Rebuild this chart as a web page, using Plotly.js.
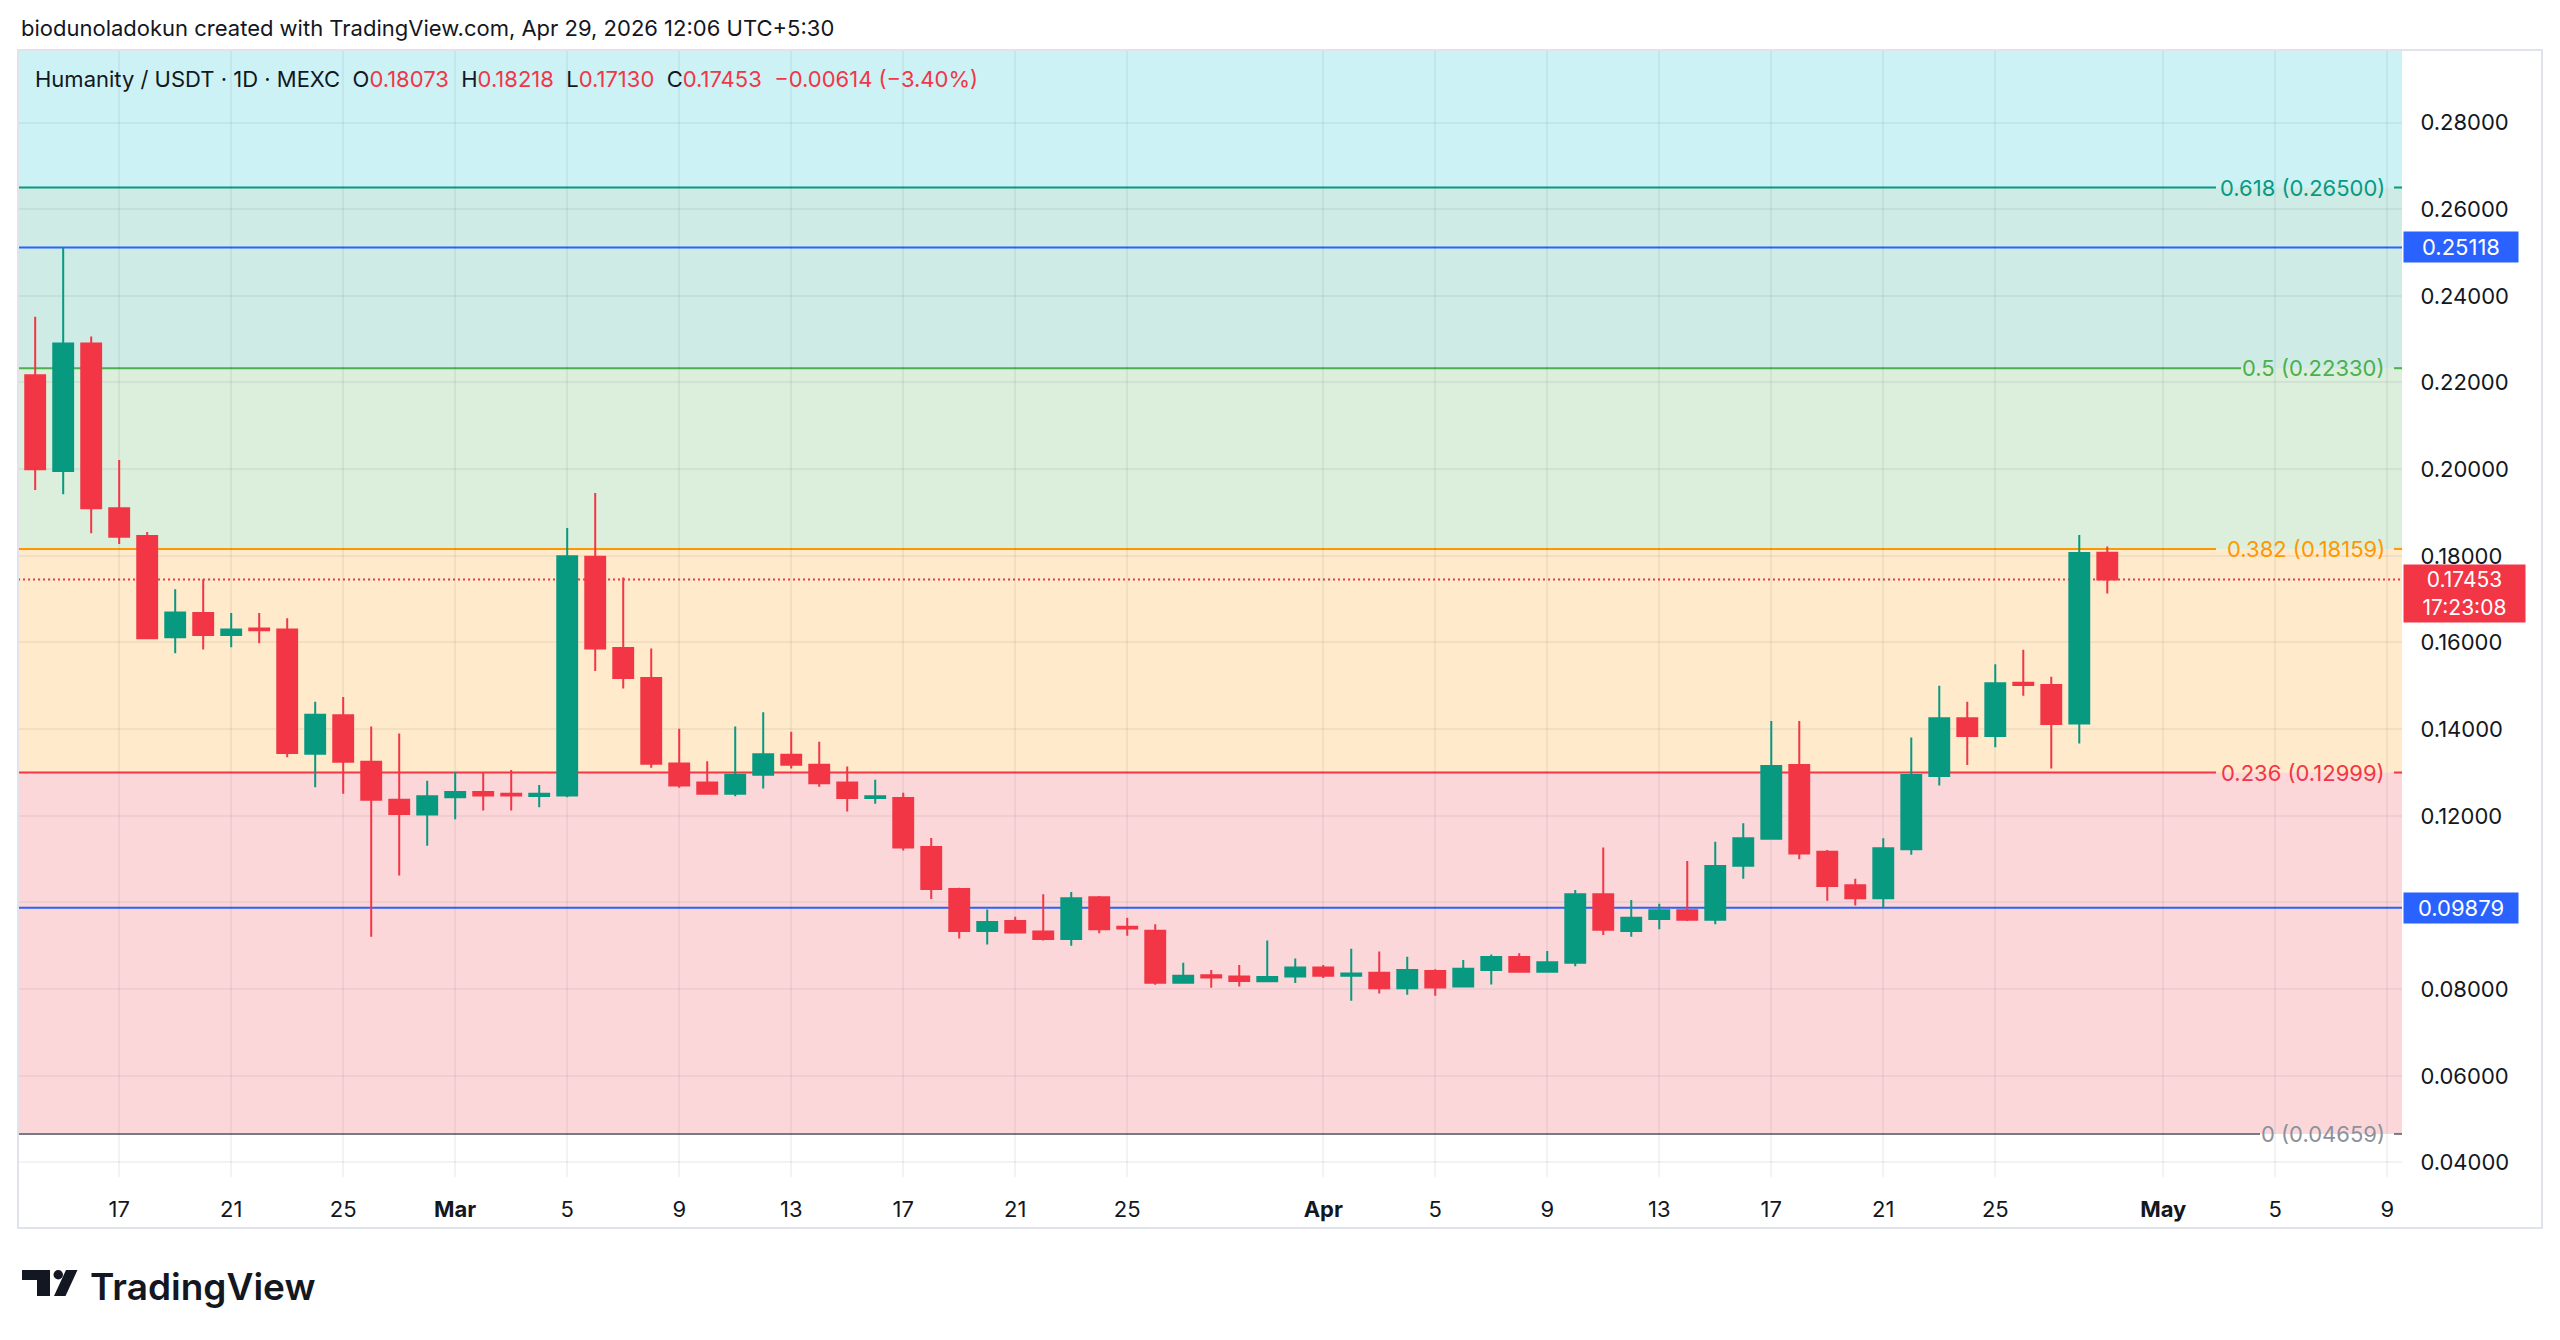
<!DOCTYPE html>
<html>
<head>
<meta charset="utf-8">
<script src="https://cdn.plot.ly/plotly-3.0.1.min.js"></script>
<style>
html,body{margin:0;padding:0;background:#ffffff;}
#chart{width:2560px;height:1340px;}
</style>
</head>
<body>
<div id="chart"></div>
<script>
// ---------------- DATA ----------------
const dates = [
 '2026-02-14','2026-02-15','2026-02-16','2026-02-17','2026-02-18','2026-02-19','2026-02-20','2026-02-21','2026-02-22','2026-02-23','2026-02-24','2026-02-25','2026-02-26','2026-02-27','2026-02-28',
 '2026-03-01','2026-03-02','2026-03-03','2026-03-04','2026-03-05','2026-03-06','2026-03-07','2026-03-08','2026-03-09','2026-03-10','2026-03-11','2026-03-12','2026-03-13','2026-03-14','2026-03-15','2026-03-16','2026-03-17','2026-03-18','2026-03-19','2026-03-20','2026-03-21','2026-03-22','2026-03-23','2026-03-24','2026-03-25','2026-03-26','2026-03-27','2026-03-28','2026-03-29','2026-03-30','2026-03-31',
 '2026-04-01','2026-04-02','2026-04-03','2026-04-04','2026-04-05','2026-04-06','2026-04-07','2026-04-08','2026-04-09','2026-04-10','2026-04-11','2026-04-12','2026-04-13','2026-04-14','2026-04-15','2026-04-16','2026-04-17','2026-04-18','2026-04-19','2026-04-20','2026-04-21','2026-04-22','2026-04-23','2026-04-24','2026-04-25','2026-04-26','2026-04-27','2026-04-28','2026-04-29'
];
const opens = [
 0.2217,0.1996,0.2290,0.1910,0.1846,0.1612,0.1668,0.1617,0.1632,0.1630,0.1343,0.1432,0.1325,0.1237,0.1203,
 0.1243,0.1255,0.1251,0.1246,0.1247,0.1798,0.1587,0.1518,0.1321,0.1277,0.1251,0.1295,0.1341,0.1318,0.1277,0.1241,0.1241,0.1128,0.1031,0.0934,0.0957,0.0933,0.0916,0.1012,0.0944,0.0935,0.0815,0.0832,0.0829,0.0818,0.0829,
 0.0850,0.0831,0.0838,0.0802,0.0842,0.0806,0.0844,0.0874,0.0840,0.0861,0.1019,0.0934,0.0962,0.0982,0.0960,0.1085,0.1147,0.1317,0.1117,0.1040,0.1010,0.1123,0.1292,0.1425,0.1384,0.1507,0.1502,0.1413,0.18073
];
const highs = [
 0.2352,0.25118,0.2306,0.2021,0.1855,0.1723,0.1746,0.1668,0.1668,0.1656,0.1463,0.1474,0.1406,0.1390,0.1281,
 0.1301,0.1301,0.1306,0.1271,0.1864,0.1945,0.1750,0.1586,0.1401,0.1326,0.1406,0.1439,0.1394,0.1371,0.1314,0.1283,0.1253,0.1149,0.1034,0.0984,0.0967,0.1019,0.1024,0.1015,0.0965,0.0950,0.0861,0.0844,0.0856,0.0912,0.0871,
 0.0856,0.0893,0.0887,0.0875,0.0846,0.0867,0.0880,0.0883,0.0888,0.1029,0.1127,0.1006,0.0997,0.1096,0.1140,0.1183,0.1419,0.1419,0.1121,0.1055,0.1148,0.1381,0.1500,0.1463,0.1550,0.1583,0.1521,0.1848,0.18218
];
const lows = [
 0.1952,0.1942,0.1852,0.1827,0.1608,0.1575,0.1584,0.1589,0.1598,0.1335,0.1266,0.1251,0.0921,0.1062,0.1131,
 0.1192,0.1212,0.1212,0.1220,0.1243,0.1534,0.1494,0.1311,0.1265,0.1249,0.1245,0.1263,0.1309,0.1267,0.1210,0.1228,0.1120,0.1008,0.0917,0.0903,0.0930,0.0912,0.0900,0.0929,0.0923,0.0810,0.0814,0.0803,0.0806,0.0818,0.0814,
 0.0826,0.0773,0.0790,0.0787,0.0785,0.0806,0.0811,0.0840,0.0839,0.0853,0.0925,0.0921,0.0938,0.0957,0.0950,0.1055,0.1145,0.1100,0.1004,0.0993,0.0989,0.1110,0.1270,0.1317,0.1358,0.1477,0.1309,0.1367,0.17130
];
const closes = [
 0.2000,0.2290,0.1910,0.1844,0.1610,0.1669,0.1617,0.1630,0.1628,0.1345,0.1433,0.1325,0.1237,0.1204,0.1245,
 0.1255,0.1247,0.1247,0.1251,0.1799,0.1586,0.1518,0.1320,0.1270,0.1251,0.1295,0.1342,0.1318,0.1275,0.1241,0.1245,0.1127,0.1031,0.0934,0.0955,0.0931,0.0916,0.1010,0.0938,0.0940,0.0815,0.0831,0.0827,0.0819,0.0828,0.0850,
 0.0831,0.0836,0.0802,0.0844,0.0804,0.0847,0.0874,0.0840,0.0862,0.1019,0.0937,0.0965,0.0982,0.0960,0.1084,0.1148,0.1315,0.1113,0.1038,0.1010,0.1125,0.1294,0.1425,0.1384,0.1506,0.1502,0.1412,0.18067,0.17453
];

const fibLevels = [0, 0.236, 0.382, 0.5, 0.618];
const fibPrices = [0.04659, 0.12999, 0.18159, 0.22330, 0.26500];
const fib786Price = 0.32438;
const hLines = [0.25118, 0.09879];
const countdown = '17:23:08';

const yTicks = [0.04,0.06,0.08,0.10,0.12,0.14,0.16,0.18,0.20,0.22,0.24,0.26,0.28];
const yTickText = ['0.04000','0.06000','0.08000','','0.12000','0.14000','0.16000','0.18000','0.20000','0.22000','0.24000','0.26000','0.28000'];
const xTickVals = ['2026-02-17','2026-02-21','2026-02-25','2026-03-01','2026-03-05','2026-03-09','2026-03-13','2026-03-17','2026-03-21','2026-03-25','2026-04-01','2026-04-05','2026-04-09','2026-04-13','2026-04-17','2026-04-21','2026-04-25','2026-05-01','2026-05-05','2026-05-09'];
const xTickText = ['17','21','25','<b>Mar</b>','5','9','13','17','21','25','<b>Apr</b>','5','9','13','17','21','25','<b>May</b>','5','9'];

const headerText = 'biodunoladokun created with TradingView.com, Apr 29, 2026 12:06 UTC+5:30';
const symbolText = 'Humanity / USDT · 1D · MEXC';

// ---------------- STYLE / LAYOUT ----------------
const W = 2560, H = 1340;
const PL = 18, PR = 2402, PT = 50, PB = 1177;   // plot box in pixels
const px = X => (X - PL) / (PR - PL);
const py = Y => (PB - Y) / (PB - PT);
const FONT = 'Inter, "Noto Sans", "DejaVu Sans", sans-serif';
const FS = 22;
const TXT = '#131722';
const UP = '#089981', DOWN = '#F23645', BLUE = '#2962FF';
const fibColors = ['#787B86', '#F23645', '#FF9800', '#4CAF50', '#089981'];
const fibTopColor = '#00BCD4';
const fibLabelLeft = [2269, 2225, 2225, 2250, 2225];
const fibLabelColors = ['#8E919A', '#F23645', '#FF9800', '#4CAF50', '#089981'];

function rgba(hex, a) {
  const n = parseInt(hex.slice(1), 16);
  return `rgba(${(n >> 16) & 255},${(n >> 8) & 255},${n & 255},${a})`;
}

const shapes = [];
const annotations = [];

// fib zones
for (let i = 0; i < fibPrices.length; i++) {
  const top = i < fibPrices.length - 1 ? fibPrices[i + 1] : fib786Price;
  const col = i < fibPrices.length - 1 ? fibColors[i + 1] : fibTopColor;
  shapes.push({type: 'rect', xref: 'paper', yref: 'y', x0: 0, x1: 1, y0: fibPrices[i], y1: top,
    fillcolor: rgba(col, 0.2), line: {width: 0}, layer: 'below'});
}
// fib lines + labels
for (let i = 0; i < fibPrices.length; i++) {
  const c = fibColors[i];
  shapes.push({type: 'line', xref: 'paper', yref: 'y', x0: 0, x1: px(fibLabelLeft[i] - 9),
    y0: fibPrices[i], y1: fibPrices[i], line: {color: c, width: 2}, layer: 'between'});
  shapes.push({type: 'line', xref: 'paper', yref: 'y', x0: px(2394), x1: 1,
    y0: fibPrices[i], y1: fibPrices[i], line: {color: c, width: 2}, layer: 'between'});
  annotations.push({xref: 'paper', yref: 'y', x: px(2387), xanchor: 'right', y: fibPrices[i], yanchor: 'middle',
    text: `${fibLevels[i]} (${fibPrices[i].toFixed(5)})`, showarrow: false,
    font: {family: FONT, size: FS, color: fibLabelColors[i]}});
}
// horizontal blue lines + badges
hLines.forEach(v => {
  shapes.push({type: 'line', xref: 'paper', yref: 'y', x0: 0, x1: 1, y0: v, y1: v,
    line: {color: BLUE, width: 2}, layer: 'between'});
  annotations.push({xref: 'paper', yref: 'y', x: px(2403), xanchor: 'left', y: v, yanchor: 'middle',
    text: v.toFixed(5), showarrow: false, bgcolor: BLUE, borderpad: 4, width: 106, height: 22, align: 'center',
    font: {family: FONT, size: FS, color: '#ffffff'}});
});
// last price dotted line + badge
const n = closes.length;
const last = closes[n - 1];
shapes.push({type: 'line', xref: 'paper', yref: 'y', x0: 0, x1: 1, y0: last, y1: last,
  line: {color: DOWN, width: 2, dash: '2px,3px'}, layer: 'between'});
annotations.push({xref: 'paper', yref: 'y', x: px(2403), xanchor: 'left', y: last, yanchor: 'top', yshift: 16,
  text: last.toFixed(5) + '<br>' + countdown, showarrow: false, bgcolor: DOWN, borderpad: 4, width: 113, height: 49,
  align: 'center', font: {family: FONT, size: 21, color: '#ffffff'}});

// header text
annotations.push({xref: 'paper', yref: 'paper', x: px(19), xanchor: 'left', y: py(28), yanchor: 'middle',
  text: headerText, showarrow: false, font: {family: FONT, size: FS, color: TXT}});

// OHLC legend
const chg = closes[n - 1] - closes[n - 2];
const pct = chg / closes[n - 2] * 100;
const fmtSigned = (v, d) => (v < 0 ? '\u2212' : '+') + Math.abs(v).toFixed(d);
const lc = chg < 0 ? DOWN : UP;
const sp = '&nbsp;&nbsp;';
const legendText = symbolText + sp +
  'O<span style="color:' + lc + '">' + opens[n - 1].toFixed(5) + '</span>' + sp +
  'H<span style="color:' + lc + '">' + highs[n - 1].toFixed(5) + '</span>' + sp +
  'L<span style="color:' + lc + '">' + lows[n - 1].toFixed(5) + '</span>' + sp +
  'C<span style="color:' + lc + '">' + closes[n - 1].toFixed(5) + '</span>' + sp +
  '<span style="color:' + lc + '">' + fmtSigned(chg, 5) + ' (' + fmtSigned(pct, 2) + '%)</span>';
annotations.push({xref: 'paper', yref: 'paper', x: px(33), xanchor: 'left', y: py(79), yanchor: 'middle',
  text: legendText, showarrow: false, font: {family: FONT, size: FS, color: TXT}});

// TradingView logo
annotations.push({xref: 'paper', yref: 'paper', x: px(88), xanchor: 'left', y: py(1286), yanchor: 'middle',
  text: 'TradingView', showarrow: false, font: {family: FONT, size: 37, color: TXT, weight: 600}});
shapes.push({type: 'rect', xref: 'paper', yref: 'paper', x0: px(22), x1: px(50), y0: py(1280), y1: py(1270),
  fillcolor: TXT, line: {width: 0}});
shapes.push({type: 'rect', xref: 'paper', yref: 'paper', x0: px(37), x1: px(50), y0: py(1296), y1: py(1270),
  fillcolor: TXT, line: {width: 0}});
shapes.push({type: 'circle', xref: 'paper', yref: 'paper', x0: px(53.5), x1: px(63), y0: py(1279.5), y1: py(1270),
  fillcolor: TXT, line: {width: 0}});
shapes.push({type: 'path', xref: 'paper', yref: 'paper',
  path: `M ${px(66)} ${py(1270)} L ${px(77.5)} ${py(1270)} L ${px(65.5)} ${py(1296)} L ${px(54)} ${py(1296)} Z`,
  fillcolor: TXT, line: {width: 0}});

// outer frame
shapes.push({type: 'rect', xref: 'paper', yref: 'paper', x0: px(18), x1: px(2542), y0: py(1228), y1: py(50),
  line: {color: '#E0E3EB', width: 2}, fillcolor: 'rgba(0,0,0,0)', layer: 'above'});

const trace = {
  type: 'candlestick', x: dates, open: opens, high: highs, low: lows, close: closes,
  increasing: {line: {color: UP, width: 2}, fillcolor: UP},
  decreasing: {line: {color: DOWN, width: 2}, fillcolor: DOWN},
  whiskerwidth: 0, hoverinfo: 'skip', showlegend: false
};

const gridCol = 'rgba(42,46,57,0.06)';
const layout = {
  width: W, height: H,
  margin: {l: PL, r: W - PR, t: PT, b: H - PB, pad: 0},
  paper_bgcolor: '#ffffff', plot_bgcolor: '#ffffff',
  font: {family: FONT, size: FS, color: TXT},
  showlegend: false,
  boxgap: 0.29, boxgroupgap: 0,
  xaxis: {
    type: 'date', range: ['2026-02-13 09:16', '2026-05-09 12:36'],
    tickmode: 'array', tickvals: xTickVals, ticktext: xTickText,
    showgrid: true, gridcolor: gridCol, gridwidth: 2,
    ticks: 'outside', ticklen: 13, tickcolor: 'rgba(0,0,0,0)',
    tickfont: {family: FONT, size: FS, color: TXT},
    showline: false, zeroline: false, rangeslider: {visible: false}, fixedrange: true
  },
  yaxis: {
    side: 'right', range: [0.03665, 0.29673],
    tickmode: 'array', tickvals: yTicks, ticktext: yTickText,
    showgrid: true, gridcolor: gridCol, gridwidth: 2,
    ticks: 'outside', ticklen: 13, tickcolor: 'rgba(0,0,0,0)',
    tickfont: {family: FONT, size: FS, color: TXT},
    showline: false, zeroline: false, fixedrange: true
  },
  shapes: shapes,
  annotations: annotations
};

Plotly.newPlot('chart', [trace], layout, {displayModeBar: false, staticPlot: true});
</script>
</body>
</html>
